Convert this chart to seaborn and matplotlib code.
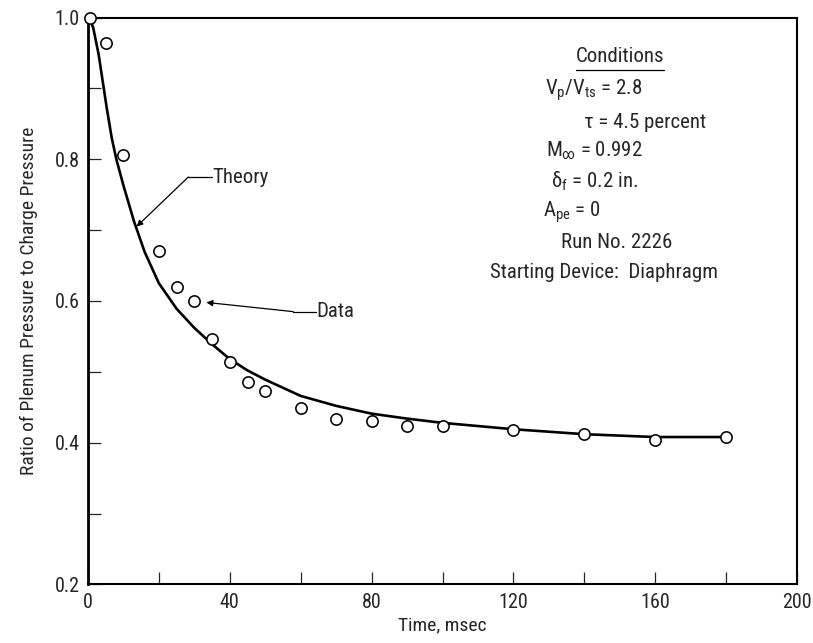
import matplotlib
matplotlib.use("Agg")
import matplotlib.pyplot as plt
import seaborn as sns
import pandas as pd

# ---- data ----
time_data = [0.5, 5, 10, 20, 25, 30, 35, 40, 45, 50, 60, 70, 80, 90, 100, 120, 140, 160, 180]
ratio_data = [1.0, 0.964, 0.806, 0.670, 0.620, 0.600, 0.546, 0.514, 0.485, 0.473,
              0.449, 0.434, 0.430, 0.424, 0.424, 0.418, 0.412, 0.404, 0.408]

time_theory = [0.5, 1.5, 3, 4, 5.3, 6.7, 8, 10, 13, 16, 20, 25, 30, 35, 40, 45, 50,
               60, 70, 80, 90, 100, 120, 140, 160, 180]
ratio_theory = [1.0, 0.985, 0.948, 0.915, 0.872, 0.830, 0.800, 0.763, 0.712, 0.669,
                0.625, 0.589, 0.562, 0.539, 0.518, 0.502, 0.489, 0.466, 0.452, 0.441,
                0.434, 0.428, 0.419, 0.412, 0.408, 0.408]

x_ticks = [0, 40, 80, 120, 160, 200]
x_tick_labels = ["0", "40", "80", "120", "160", "200"]
y_ticks = [0.2, 0.4, 0.6, 0.8, 1.0]
y_tick_labels = ["0.2", "0.4", "0.6", "0.8", "1.0"]

conditions = [
    "Conditions",
    r"V$_{\mathregular{p}}$/V$_{\mathregular{ts}}$ = 2.8",
    "τ = 4.5 percent",
    r"M$_{\mathregular{\infty}}$ = 0.992",
    r"δ$_{\mathregular{f}}$ = 0.2 in.",
    r"A$_{\mathregular{pe}}$ = 0",
    "Run No. 2226",
    "Starting Device:  Diaphragm",
]

sns.set_style("ticks")
FAM = ["Liberation Sans Narrow", "Roboto Condensed", "Liberation Sans", "DejaVu Sans"]
plt.rcParams["font.family"] = FAM
plt.rcParams["mathtext.fontset"] = "custom"
plt.rcParams["mathtext.rm"] = "Roboto Condensed"
plt.rcParams["mathtext.it"] = "Roboto Condensed"
plt.rcParams["mathtext.bf"] = "Roboto Condensed"

W, H = 813, 643
fig = plt.figure(figsize=(W / 100, H / 100), dpi=100)
L, R, T, B = 88, 797, 17.6, 584.4
ax = fig.add_axes([L / W, 1 - B / H, (R - L) / W, (B - T) / H])

df_t = pd.DataFrame({"t": time_theory, "r": ratio_theory})
df_d = pd.DataFrame({"t": time_data, "r": ratio_data})

sns.lineplot(data=df_t, x="t", y="r", ax=ax, color="black", lw=1.9,
             sort=False, estimator=None, zorder=2)
sns.scatterplot(data=df_d, x="t", y="r", ax=ax, marker="o", s=66,
                facecolor="white", edgecolor="black", linewidth=1.15, zorder=3,
                clip_on=False)

ax.set_xlim(0, 200)
ax.set_ylim(0.2, 1.0)
ax.set_xticks(x_ticks)
ax.set_xticklabels(x_tick_labels)
ax.set_xticks([20, 60, 100, 140, 180], minor=True)
ax.set_yticks(y_ticks)
ax.set_yticklabels(y_tick_labels)
ax.set_yticks([0.3, 0.5, 0.7, 0.9], minor=True)
ax.tick_params(which="both", direction="in", length=9, width=0.9,
               top=False, right=False, labelsize=14.5, pad=6)
for s in ax.spines.values():
    s.set_linewidth(1.5)
    s.set_color("black")
ax.spines["left"].set_linewidth(2.0)

ax.set_xlabel("Time, msec", fontsize=14, labelpad=3)
ax.set_ylabel("Ratio of Plenum Pressure to Charge Pressure", fontsize=14, labelpad=12)

# annotations
ax.plot([28.3, 35.0], [0.775, 0.775], color="black", lw=0.9)
ax.annotate("", xy=(13.7, 0.705), xytext=(28.3, 0.775),
            arrowprops=dict(arrowstyle="-|>", color="black", lw=0.9,
                            mutation_scale=9, shrinkA=0, shrinkB=0))
ax.text(35.0, 0.775, "Theory", fontsize=15, va="center", ha="left")

ax.plot([57.9, 64.3], [0.585, 0.585], color="black", lw=0.9)
ax.annotate("", xy=(33.4, 0.598), xytext=(57.9, 0.585),
            arrowprops=dict(arrowstyle="-|>", color="black", lw=0.9,
                            mutation_scale=9, shrinkA=0, shrinkB=0))
ax.text(64.3, 0.585, "Data", fontsize=15, va="center", ha="left")

# conditions block (pixel centres -> figure fraction)
pos = [(620, 57), (594, 90), (645, 123), (594, 151), (595, 181),
       (572, 212), (617, 242), (604, 272)]
for txt, (px, py) in zip(conditions, pos):
    fig.text(px / W, 1 - py / H, txt, fontsize=15, ha="center", va="center")
fig.add_artist(plt.Line2D([576 / W, 664 / W], [1 - 70 / H, 1 - 70 / H],
                          color="black", lw=0.9))

fig.savefig("out.png", dpi=100)
